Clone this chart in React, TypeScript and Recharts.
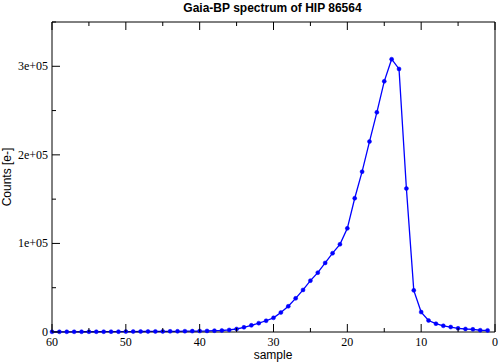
import React from 'react';
import { LineChart, Line, XAxis, YAxis } from 'recharts';

// sample index (descending, as plotted) and BP counts
const samples = [
  60, 59, 58, 57, 56, 55, 54, 53, 52, 51, 50, 49, 48, 47, 46, 45, 44, 43, 42, 41,
  40, 39, 38, 37, 36, 35, 34, 33, 32, 31, 30, 29, 28, 27, 26, 25, 24, 23, 22, 21,
  20, 19, 18, 17, 16, 15, 14, 13, 12, 11, 10, 9, 8, 7, 6, 5, 4, 3, 2, 1,
];
const counts = [
  200, 200, 250, 250, 300, 300, 300, 350, 400, 400, 450, 500, 550, 600, 650, 700, 750, 800, 900, 1000,
  1100, 1200, 1500, 1700, 2300, 3400, 5300, 7500, 10000, 12700, 16000, 22000, 29000, 38000, 47500, 58000, 67000, 78000, 89000, 99000,
  117000, 151000, 181000, 215000, 248000, 283000, 308000, 297000, 162000, 47000, 22500, 13000, 9400, 7000, 5600, 4100, 3400, 3000, 2000, 1800,
];
const xTicks = [0, 5, 10, 15, 20, 25, 30, 35, 40, 45, 50, 55, 60];
const yTicks = [0, 50000, 100000, 150000, 200000, 250000, 300000, 350000];
const yLabels: Record<number, string> = { 0: '0', 100000: '1e+05', 200000: '2e+05', 300000: '3e+05' };

const data = samples.map((s, i) => ({ sample: s, counts: counts[i] }));

const serif = '"Liberation Serif", "Times New Roman", serif';
const sans = '"Liberation Sans", Arial, sans-serif';

const BottomTick = (p: any) => {
  const major = p.payload.value % 10 === 0;
  return (
    <g>
      <line x1={p.x} y1={p.y} x2={p.x} y2={p.y - (major ? 8 : 4)} stroke="#000" />
      {major && (
        <text x={p.x} y={p.y + 14} textAnchor="middle" fontFamily={serif} fontSize={12} fill="#000">
          {p.payload.value}
        </text>
      )}
    </g>
  );
};

const TopTick = (p: any) => {
  const major = p.payload.value % 10 === 0;
  return <line x1={p.x} y1={p.y} x2={p.x} y2={p.y + (major ? 8 : 4)} stroke="#000" />;
};

const LeftTick = (p: any) => {
  const v = p.payload.value;
  const major = v % 100000 === 0;
  return (
    <g>
      <line x1={p.x} y1={p.y} x2={p.x + (major ? 8 : 4)} y2={p.y} stroke="#000" />
      {yLabels[v] && (
        <text x={p.x - 4} y={p.y + 4} textAnchor="end" fontFamily={serif} fontSize={12} fill="#000">
          {yLabels[v]}
        </text>
      )}
    </g>
  );
};

const RightTick = (p: any) => {
  const major = p.payload.value % 100000 === 0;
  return <line x1={p.x} y1={p.y} x2={p.x - (major ? 8 : 4)} y2={p.y} stroke="#000" />;
};

export default function App() {
  return (
    <div style={{ position: 'absolute', left: 0, top: 0, width: 500, height: 363, background: '#fff' }}>
      <div style={{ position: 'absolute', left: 0, width: 545, top: 1, textAlign: 'center', fontFamily: sans, fontWeight: 'bold', fontSize: 12, lineHeight: '14px' }}>
        Gaia-BP spectrum of HIP 86564
      </div>
      <div style={{ position: 'absolute', left: 273 - 50, width: 100, top: 348, textAlign: 'center', fontFamily: sans, fontSize: 12, lineHeight: '14px' }}>
        sample
      </div>
      <div style={{ position: 'absolute', left: 7 - 50, width: 100, top: 177 - 7, textAlign: 'center', fontFamily: sans, fontSize: 12, lineHeight: '14px', transform: 'rotate(-90deg)' }}>
        Counts [e-]
      </div>
      <LineChart width={500} height={363} data={data} margin={{ top: 21, right: 4, bottom: 0, left: 0 }}>
        <XAxis xAxisId="bottom" dataKey="sample" type="number" domain={[0, 60]} reversed ticks={xTicks}
          height={31} tickSize={0} tickMargin={0} tickLine={false} tick={<BottomTick />}
          axisLine={{ stroke: '#000' }} interval={0} />
        <XAxis xAxisId="top" orientation="top" dataKey="sample" type="number" domain={[0, 60]} reversed ticks={xTicks}
          height={1} tickSize={0} tickMargin={0} tickLine={false} tick={<TopTick />}
          axisLine={{ stroke: '#000' }} interval={0} />
        <YAxis yAxisId="left" type="number" domain={[0, 350000]} ticks={yTicks} width={52}
          tickSize={0} tickMargin={0} tickLine={false} tick={<LeftTick />} axisLine={{ stroke: '#000' }} interval={0} />
        <YAxis yAxisId="right" orientation="right" type="number" domain={[0, 350000]} ticks={yTicks} width={1}
          tickSize={0} tickMargin={0} tickLine={false} tick={<RightTick />} axisLine={{ stroke: '#000' }} interval={0} />
        <Line xAxisId="bottom" yAxisId="left" type="linear" dataKey="counts" stroke="#0000ff" strokeWidth={1.3}
          dot={{ r: 2, fill: '#0000ff', stroke: '#0000ff', strokeWidth: 0.5 }} isAnimationActive={false} />
      </LineChart>
    </div>
  );
}
